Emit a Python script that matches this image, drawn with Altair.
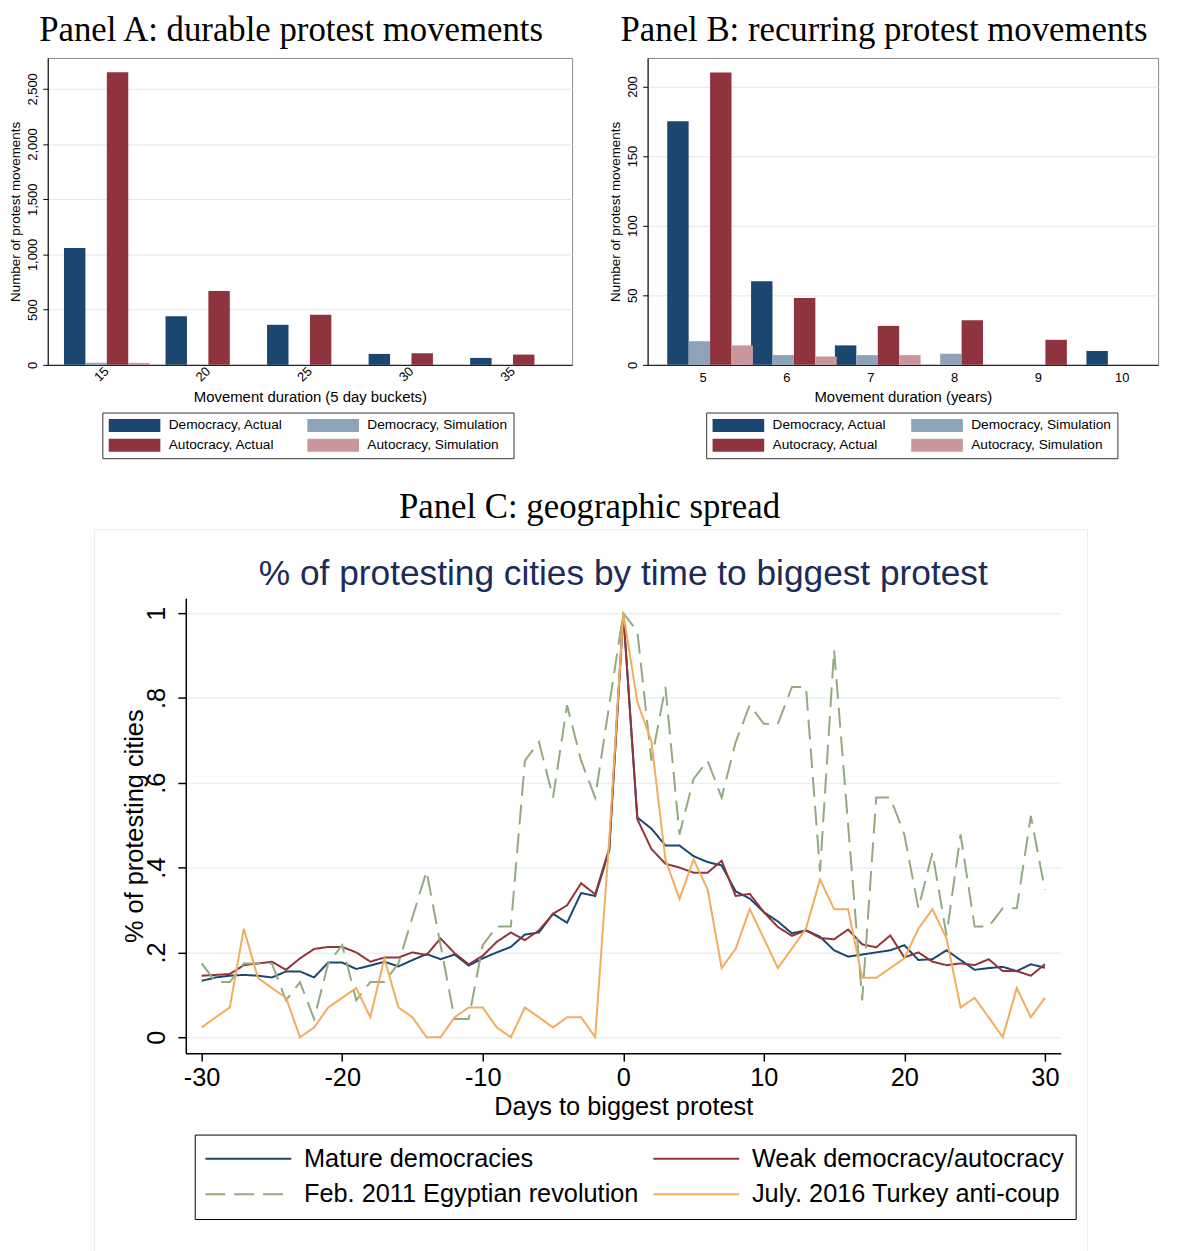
import altair as alt
import pandas as pd

# ---------------- Panel A: durable protest movements ----------------
a_buckets = ["15", "20", "25", "30", "35"]
a_dem_actual = [1059, 441, 363, 99, 63]
a_dem_sim = [18, 0, 0, 0, 0]
a_aut_actual = [2650, 669, 453, 105, 93]
a_aut_sim = [18, 0, 0, 0, 0]

# ---------------- Panel B: recurring protest movements ----------------
b_years = ["5", "6", "7", "8", "9", "10"]
b_dem_actual = [175, 60, 14, 0, 0, 10]
b_dem_sim = [17, 7, 7, 8, 0, 0]
b_aut_actual = [210, 48, 28, 32, 18, 0]
b_aut_sim = [14, 6, 7, 0, 0, 0]

series_names = ["Democracy, Actual", "Democracy, Simulation",
                "Autocracy, Actual", "Autocracy, Simulation"]
bar_colors = ["#1b4670", "#8ca3b8", "#8f343e", "#c9979b"]

# ---------------- Panel C: geographic spread ----------------
days = list(range(-30, 31))
mature = [0.133, 0.141, 0.145, 0.147, 0.145, 0.141, 0.155, 0.155, 0.141, 0.176,
          0.176, 0.161, 0.169, 0.178, 0.167, 0.182, 0.196, 0.184, 0.195, 0.169,
          0.186, 0.200, 0.213, 0.242, 0.247, 0.291, 0.270, 0.340, 0.333, 0.440,
          1.000,
          0.518, 0.492, 0.452, 0.452, 0.427, 0.413, 0.405, 0.344, 0.327, 0.295,
          0.273, 0.245, 0.252, 0.237, 0.205, 0.190, 0.195, 0.200, 0.205, 0.217,
          0.182, 0.184, 0.205, 0.182, 0.159, 0.163, 0.166, 0.156, 0.172, 0.164]
weak = [0.145, 0.147, 0.149, 0.170, 0.174, 0.178, 0.159, 0.186, 0.208, 0.213,
        0.213, 0.200, 0.178, 0.188, 0.188, 0.200, 0.194, 0.233, 0.198, 0.172,
        0.192, 0.225, 0.247, 0.229, 0.252, 0.291, 0.311, 0.363, 0.337, 0.445,
        1.000,
        0.514, 0.444, 0.409, 0.400, 0.388, 0.388, 0.416, 0.333, 0.338, 0.295,
        0.260, 0.239, 0.252, 0.234, 0.231, 0.254, 0.219, 0.212, 0.240, 0.188,
        0.200, 0.178, 0.170, 0.174, 0.170, 0.184, 0.156, 0.156, 0.145, 0.172]
egypt = [0.174, 0.130, 0.130, 0.174, 0.174, 0.174, 0.087, 0.130, 0.043, 0.174,
         0.217, 0.087, 0.130, 0.130, 0.174, 0.283, 0.391, 0.217, 0.043, 0.043,
         0.217, 0.261, 0.261, 0.652, 0.696, 0.565, 0.783, 0.652, 0.565, 0.783,
         1.000,
         0.957, 0.652, 0.826, 0.478, 0.609, 0.652, 0.565, 0.696, 0.783, 0.739,
         0.739, 0.826, 0.826, 0.391, 0.913, 0.500, 0.087, 0.565, 0.565, 0.478,
         0.304, 0.435, 0.240, 0.478, 0.261, 0.261, 0.304, 0.304, 0.522, 0.348]
turkey = [0.023, 0.047, 0.070, 0.256, 0.140, 0.116, 0.093, 0.000, 0.023, 0.070,
          0.093, 0.116, 0.047, 0.186, 0.070, 0.047, 0.000, 0.000, 0.047, 0.070,
          0.070, 0.023, 0.000, 0.070, 0.047, 0.023, 0.047, 0.047, 0.000, 0.465,
          1.000,
          0.791, 0.698, 0.419, 0.326, 0.419, 0.349, 0.163, 0.209, 0.302, 0.233,
          0.163, 0.209, 0.256, 0.372, 0.302, 0.302, 0.140, 0.140, 0.163, 0.186,
          0.256, 0.302, 0.233, 0.070, 0.093, 0.047, 0.000, 0.116, 0.047, 0.093]
line_names = ["Mature democracies", "Weak democracy/autocracy",
              "Feb. 2011 Egyptian revolution", "July. 2016 Turkey anti-coup"]
line_colors = ["#1a476f", "#90353b", "#93aa7f", "#f0ad5c"]
line_dashes = [[1, 0], [1, 0], [20, 9], [1, 0]]

SANS = "Liberation Sans"
SERIF = "Liberation Serif"


def bar_df(groups, cols):
    rows = []
    for s, vals in zip(series_names, cols):
        for g, v in zip(groups, vals):
            rows.append({"group": g, "series": s, "value": v})
    return pd.DataFrame(rows)


def bar_panel(df, groups, title, xtitle, ydomain, yvalues, rotated, width,
              xscale, legend_x, legend_y, title_x):
    if rotated:
        xaxis = alt.Axis(title=xtitle, labelAngle=315, labelAlign="right",
                         labelBaseline="middle", ticks=False, labelPadding=4,
                         labelFontSize=13, titleFontSize=15, titlePadding=6,
                         domainColor="black")
    else:
        xaxis = alt.Axis(title=xtitle, labelAngle=0, labelAlign="center",
                         labelBaseline="top", ticks=False, labelPadding=7,
                         labelFontSize=13, titleFontSize=15, titlePadding=5,
                         domainColor="black")
    legend = alt.Legend(title=None, orient="none", legendX=legend_x,
                        legendY=legend_y, columns=2, direction="horizontal",
                        symbolType="M-4,-1H4V1H-4Z", symbolSize=169,
                        symbolStrokeWidth=0, symbolOffset=19.5, labelOffset=27.5,
                        labelFontSize=13.8, labelLimit=300, rowPadding=5,
                        columnPadding=24, padding=6, strokeColor="#333333",
                        fillColor="white", gridAlign="each")
    bars = alt.Chart(df).mark_bar().encode(
        x=alt.X("group:N", sort=groups, scale=xscale, axis=xaxis),
        xOffset=alt.XOffset("series:N", sort=series_names,
                            scale=alt.Scale(domain=series_names,
                                            paddingInner=0, paddingOuter=0)),
        y=alt.Y("value:Q", scale=alt.Scale(domain=ydomain, nice=False),
                axis=alt.Axis(values=yvalues, format=",.0f", labelAngle=270,
                              labelAlign="center", labelBaseline="bottom",
                              labelFontSize=13, tickSize=5, labelPadding=3,
                              tickColor="black", domainColor="black",
                              title="Number of protest movements",
                              titleFontSize=13.5, titlePadding=4,
                              gridColor="#e6e6e6", labelOverlap=False,
                              labelFlush=False)),
        color=alt.Color("series:N", sort=series_names,
                        scale=alt.Scale(domain=series_names, range=bar_colors),
                        legend=legend),
    )
    head = alt.Chart(pd.DataFrame({"t": [title]})).mark_text(
        font=SERIF, fontSize=35, color="black", align="center",
        baseline="alphabetic"
    ).encode(text="t:N", x=alt.value(title_x), y=alt.value(-17))
    return alt.layer(bars, head).properties(
        width=width, height=309,
        view=alt.ViewBackground(stroke="#8a8a8a"),
    )


panel_a = bar_panel(bar_df(a_buckets, [a_dem_actual, a_dem_sim, a_aut_actual, a_aut_sim]),
                    a_buckets, "Panel A: durable protest movements",
                    "Movement duration (5 day buckets)", [0, 2780],
                    [0, 500, 1000, 1500, 2000, 2500], True, 528,
                    alt.Scale(paddingInner=0.156, paddingOuter=0.16),
                    55, 357, 245)
panel_b = bar_panel(bar_df(b_years, [b_dem_actual, b_dem_sim, b_aut_actual, b_aut_sim]),
                    b_years, "Panel B: recurring protest movements",
                    "Movement duration (years)", [0, 220.5],
                    [0, 50, 100, 150, 200], False, 514,
                    alt.Scale(paddingInner=0.145, paddingOuter=0.117, align=1.0),
                    59, 357, 238)

# ---------------- Panel C chart ----------------
line_rows = []
for name, vals in zip(line_names, [mature, weak, egypt, turkey]):
    for d, v in zip(days, vals):
        line_rows.append({"day": d, "share": v, "series": name})
line_df = pd.DataFrame(line_rows)

c_legend = alt.Legend(title=None, orient="none", legendX=9, legendY=540,
                      columns=2, direction="horizontal",
                      symbolType="M-3.6,0H3.6", symbolSize=576,
                      symbolStrokeWidth=2, symbolOffset=30, labelOffset=43,
                      labelFontSize=25.5, labelLimit=500, rowPadding=9,
                      columnPadding=10, padding=11, strokeColor="black",
                      fillColor="white", gridAlign="each")

CW, CH = 881, 458

lines = alt.Chart(line_df).mark_line(strokeWidth=2).encode(
    x=alt.X("day:Q", scale=alt.Scale(domain=[-31.13, 31.13], nice=False, zero=False),
            axis=alt.Axis(values=list(range(-30, 31, 10)), title="Days to biggest protest",
                          labelExpr="(datum.value < 0 ? '-' : '') + abs(datum.value)",
                          titleFontSize=25.5, labelFontSize=25.5, tickSize=8,
                          tickWidth=1.5, domainWidth=1.5, domainColor="black",
                          tickColor="black", labelPadding=5, titlePadding=3,
                          grid=False, labelFlush=False, labelOverlap=False)),
    y=alt.Y("share:Q", scale=alt.Scale(domain=[-0.0375, 1.035], nice=False, zero=False),
            axis=alt.Axis(values=[0, 0.2, 0.4, 0.6, 0.8, 1.0],
                          labelExpr="datum.value == 0 ? '0' : (datum.value == 1 ? '1' : '.' + round(datum.value * 10))",
                          labelAngle=270, labelAlign="center", labelBaseline="bottom",
                          labelFontSize=25.5, tickSize=8, labelPadding=8,
                          tickWidth=1.5, domainWidth=1.5, domainColor="black",
                          tickColor="black", title="% of protesting cities",
                          titleFontSize=25.5, titlePadding=-2,
                          gridColor="#e8f0f2", gridWidth=1.5,
                          labelFlush=False, labelOverlap=False)),
    color=alt.Color("series:N", sort=line_names,
                    scale=alt.Scale(domain=line_names, range=line_colors),
                    legend=c_legend),
    strokeDash=alt.StrokeDash("series:N", sort=line_names,
                              scale=alt.Scale(domain=line_names, range=line_dashes),
                              legend=c_legend),
)

# faint graph-region frame around panel C
box = alt.Chart(pd.DataFrame({"k": [0]})).mark_rect(
    filled=False, stroke="#ebebeb", strokeWidth=1
).encode(x=alt.value(-92), x2=alt.value(908), y=alt.value(-69), y2=alt.value(665))

inner_title = alt.Chart(pd.DataFrame({"t": ["% of protesting cities by time to biggest protest"]})).mark_text(
    font=SANS, fontSize=35.5, color="#1c2b58", align="center", baseline="middle"
).encode(text="t:N", x=alt.value(CW / 2), y=alt.value(-24))

panel_c = alt.layer(box, lines, inner_title).properties(
    width=CW, height=CH,
    title=alt.TitleParams("Panel C: geographic spread", offset=4, dx=-34),
    view=alt.ViewBackground(stroke="transparent"),
)

# empty, invisible cell that pushes panel C to its place on the page
pad_cell = alt.Chart(pd.DataFrame({"k": [0]})).mark_point(opacity=0).encode(
    x=alt.value(0), y=alt.value(0)
).properties(width=1, height=1, view=alt.ViewBackground(stroke="transparent"))

top = alt.hconcat(panel_a, panel_b, spacing=35).resolve_scale(
    color="independent").resolve_legend(color="independent")
bottom = alt.hconcat(pad_cell, panel_c, spacing=42).resolve_scale(
    color="independent", strokeDash="independent"
).resolve_legend(color="independent", strokeDash="independent")

chart = alt.vconcat(top, bottom, spacing=31).resolve_scale(
    color="independent", strokeDash="independent"
).resolve_legend(
    color="independent", strokeDash="independent"
).properties(
    padding={"left": 0, "top": 0, "right": 0, "bottom": 0}
).configure(
    font=SANS
).configure_title(
    font=SERIF, fontSize=35, fontWeight="normal", color="black", anchor="middle"
).configure_axis(
    labelFont=SANS, titleFont=SANS, labelColor="black", titleColor="black",
    titleFontWeight="normal"
).configure_legend(
    labelFont=SANS, labelColor="black"
)

chart.save("out.html", embed_options={"renderer": "svg", "actions": False})
